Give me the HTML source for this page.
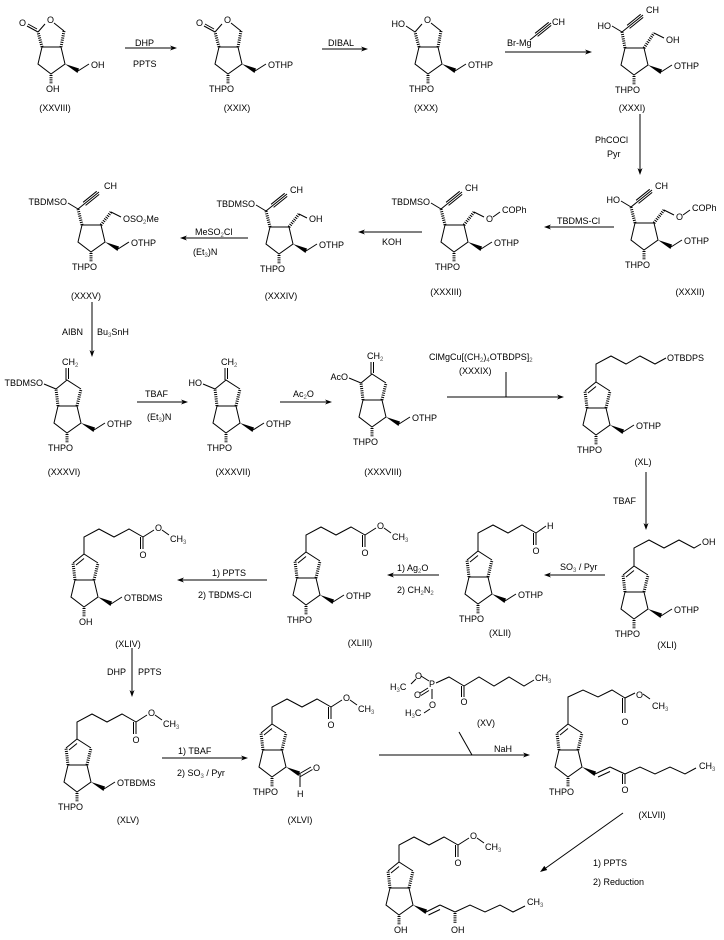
<!DOCTYPE html>
<html><head><meta charset="utf-8"><style>
html,body{margin:0;padding:0;background:#fff}
svg{display:block}
line,path{stroke:#000;stroke-width:1;fill:none}
.h{stroke-width:3;stroke-dasharray:1 1.2}
text{font-family:"Liberation Sans",sans-serif;font-size:9px;fill:#000}
.s{font-size:6px;fill:#555}
</style></head><body>
<svg width="724" height="940" viewBox="0 0 724 940" xmlns="http://www.w3.org/2000/svg">
<defs>
<g id="low">
<path d="M0,0 L19,0 M0,0 L-4,17 L9,27 L23,17 L19,0"/>
<polygon points="23,17 37,21.5 35.5,26"/>
<line class="h" x1="9" y1="28" x2="9" y2="37"/>
</g>
<path id="sub" d="M36,24 L47,17"/>
<g id="ene">
<line class="h" x1="0" y1="0" x2="-2" y2="-17"/>
<path d="M-2,-17 L9,-26 L23,-17 M1,-15 L9,-21.5"/>
<line class="h" x1="19" y1="0" x2="23" y2="-17"/>
</g>
<g id="exo">
<line class="h" x1="0" y1="0" x2="-2" y2="-17"/>
<path d="M-2,-17 L9,-26 L23,-17 M8,-26 L8,-38 M10.5,-27 L10.5,-38"/>
<line class="h" x1="19" y1="0" x2="23" y2="-17"/>
</g>
<path id="alk" d="M0,0 L21,-17 M7.6,-3.6 L21.2,-14.6 M5.1,-6.7 L18.7,-17.7"/>
<path id="est" d="M9,-26 L9,-43 L24,-51 L39,-43 L54,-51 L68,-43 L68,-31 M65.5,-43 L65.5,-31 M68,-43 L79,-50 M87,-50 L94,-45"/>
</defs>

<!-- ROW 1 -->
<g transform="translate(42,47)">
<use href="#low"/><use href="#sub"/>
<line class="h" x1="0" y1="0" x2="-4" y2="-15"/>
<path d="M-4,-15 L3,-23 M12,-24 L22,-16 M-4,-15 L-15,-21 M-5,-18 L-14,-23"/>
<line class="h" x1="22" y1="-16" x2="19" y2="0"/>
<text x="5" y="-24">O</text>
<text x="-23" y="-21">O</text>
<text x="49" y="21">OH</text>
<text x="4" y="45">OH</text>
</g>
<text x="55" y="111" text-anchor="middle">(XXVIII)</text>

<line x1="125" y1="48" x2="175" y2="48"/><polygon points="177,48 170,45.5 172,48 170,50.5"/>
<text x="135" y="46">DHP</text>
<text x="133" y="67">PPTS</text>

<g transform="translate(219,47)">
<use href="#low"/><use href="#sub"/>
<line class="h" x1="0" y1="0" x2="-4" y2="-15"/>
<path d="M-4,-15 L3,-23 M12,-24 L22,-16 M-4,-15 L-15,-21 M-5,-18 L-14,-23"/>
<line class="h" x1="22" y1="-16" x2="19" y2="0"/>
<text x="5" y="-24">O</text>
<text x="-23" y="-21">O</text>
<text x="49" y="21">OTHP</text>
<text x="15" y="45" text-anchor="end">THPO</text>
</g>
<text x="237" y="111" text-anchor="middle">(XXIX)</text>

<line x1="322" y1="49" x2="366" y2="49"/><polygon points="368,49 361,46.5 363,49 361,51.5"/>
<text x="328" y="46">DIBAL</text>

<g transform="translate(419,47)">
<use href="#low"/><use href="#sub"/>
<line class="h" x1="0" y1="0" x2="-4" y2="-15"/>
<path d="M-4,-15 L3,-23 M12,-24 L22,-16 M-4,-15 L-13,-21"/>
<line class="h" x1="22" y1="-16" x2="19" y2="0"/>
<text x="5" y="-24">O</text>
<text x="-14" y="-20" text-anchor="end">HO</text>
<text x="49" y="21">OTHP</text>
<text x="15" y="45" text-anchor="end">THPO</text>
</g>
<text x="426" y="111" text-anchor="middle">(XXX)</text>

<line x1="505" y1="52" x2="590" y2="52"/><polygon points="592,52 585,49.5 587,52 585,54.5"/>
<text x="507" y="46">Br-Mg</text>
<use href="#alk" x="530" y="40"/>
<text x="552" y="25">CH</text>

<g transform="translate(625,48)">
<use href="#low"/><use href="#sub"/>
<line class="h" x1="0" y1="0" x2="-3" y2="-16"/>
<path d="M-3,-16 L-13,-22 M29,-15 L39,-10"/>
<use href="#alk" x="-3" y="-16"/>
<line class="h" x1="19" y1="0" x2="29" y2="-15"/>
<text x="-14" y="-19" text-anchor="end">HO</text>
<text x="21" y="-35">CH</text>
<text x="41" y="-5">OH</text>
<text x="49" y="21">OTHP</text>
<text x="15" y="45" text-anchor="end">THPO</text>
</g>
<text x="632" y="111" text-anchor="middle">(XXXI)</text>

<line x1="640" y1="114" x2="640" y2="173"/><polygon points="640,175 637.5,168 640,170 642.5,168"/>
<text x="595" y="143">PhCOCl</text>
<text x="607" y="157">Pyr</text>

<!-- ROW 2 -->
<g transform="translate(635,223)">
<use href="#low"/><use href="#sub"/>
<line class="h" x1="0" y1="0" x2="-4" y2="-16"/>
<path d="M-4,-16 L-14,-22 M29,-13 L39,-8 M48,-8 L55,-13"/>
<use href="#alk" x="-4" y="-16"/>
<line class="h" x1="19" y1="0" x2="29" y2="-13"/>
<text x="-15" y="-20" text-anchor="end">HO</text>
<text x="20" y="-34">CH</text>
<text x="41" y="-3">O</text>
<text x="57" y="-12">COPh</text>
<text x="49" y="21">OTHP</text>
<text x="15" y="45" text-anchor="end">THPO</text>
</g>
<text x="690" y="295" text-anchor="middle">(XXXII)</text>

<line x1="614" y1="227" x2="546" y2="227"/><polygon points="544,227 551,224.5 549,227 551,229.5"/>
<text x="557" y="224">TBDMS-Cl</text>

<g transform="translate(445,225)">
<use href="#low"/><use href="#sub"/>
<line class="h" x1="0" y1="0" x2="-4" y2="-16"/>
<path d="M-4,-16 L-14,-22 M29,-13 L39,-8 M48,-8 L55,-13"/>
<use href="#alk" x="-4" y="-16"/>
<line class="h" x1="19" y1="0" x2="29" y2="-13"/>
<text x="-15" y="-20" text-anchor="end">TBDMSO</text>
<text x="20" y="-34">CH</text>
<text x="41" y="-3">O</text>
<text x="57" y="-12">COPh</text>
<text x="49" y="21">OTHP</text>
<text x="15" y="45" text-anchor="end">THPO</text>
</g>
<text x="446" y="295" text-anchor="middle">(XXXIII)</text>

<line x1="422" y1="232" x2="360" y2="232"/><polygon points="358,232 365,229.5 363,232 365,234.5"/>
<text x="382" y="245">KOH</text>

<g transform="translate(270,227)">
<use href="#low"/><use href="#sub"/>
<line class="h" x1="0" y1="0" x2="-4" y2="-16"/>
<path d="M-4,-16 L-14,-22 M29,-13 L37,-9"/>
<use href="#alk" x="-4" y="-16"/>
<line class="h" x1="19" y1="0" x2="29" y2="-13"/>
<text x="-15" y="-20" text-anchor="end">TBDMSO</text>
<text x="20" y="-34">CH</text>
<text x="39" y="-5">OH</text>
<text x="49" y="21">OTHP</text>
<text x="15" y="45" text-anchor="end">THPO</text>
</g>
<text x="281" y="299" text-anchor="middle">(XXXIV)</text>

<line x1="248" y1="238" x2="182" y2="238"/><polygon points="180,238 187,235.5 185,238 187,240.5"/>
<text x="195" y="235">MeSO<tspan class="s" dy="2">2</tspan><tspan dy="-2">Cl</tspan></text>
<text x="193" y="255">(Et<tspan class="s" dy="2">3</tspan><tspan dy="-2">)N</tspan></text>

<g transform="translate(82,225)">
<use href="#low"/><use href="#sub"/>
<line class="h" x1="0" y1="0" x2="-4" y2="-16"/>
<path d="M-4,-16 L-14,-22 M29,-13 L39,-8"/>
<use href="#alk" x="-4" y="-16"/>
<line class="h" x1="19" y1="0" x2="29" y2="-13"/>
<text x="-15" y="-20" text-anchor="end">TBDMSO</text>
<text x="22" y="-36">CH</text>
<text x="41" y="-3">OSO<tspan class="s" dy="2">2</tspan><tspan dy="-2">Me</tspan></text>
<text x="49" y="21">OTHP</text>
<text x="15" y="45" text-anchor="end">THPO</text>
</g>
<text x="86" y="299" text-anchor="middle">(XXXV)</text>

<line x1="92" y1="302" x2="92" y2="355"/><polygon points="92,357 89.5,350 92,352 94.5,350"/>
<text x="62" y="335">AIBN</text>
<text x="97" y="335">Bu<tspan class="s" dy="2">3</tspan><tspan dy="-2">SnH</tspan></text>

<!-- ROW 3 -->
<g transform="translate(58,406)">
<use href="#low"/><use href="#sub"/><use href="#exo"/>
<path d="M-2,-17 L-14,-22"/>
<text x="-15" y="-20" text-anchor="end">TBDMSO</text>
<text x="4" y="-41">CH<tspan class="s" dy="2">2</tspan></text>
<text x="49" y="21">OTHP</text>
<text x="15" y="45" text-anchor="end">THPO</text>
</g>
<text x="64" y="475" text-anchor="middle">(XXXVI)</text>

<line x1="137" y1="402" x2="186" y2="402"/><polygon points="188,402 181,399.5 183,402 181,404.5"/>
<text x="145" y="397">TBAF</text>
<text x="147" y="420">(Et<tspan class="s" dy="2">3</tspan><tspan dy="-2">)N</tspan></text>

<g transform="translate(217,406)">
<use href="#low"/><use href="#sub"/><use href="#exo"/>
<path d="M-2,-17 L-14,-22"/>
<text x="-15" y="-20" text-anchor="end">HO</text>
<text x="4" y="-41">CH<tspan class="s" dy="2">2</tspan></text>
<text x="49" y="21">OTHP</text>
<text x="15" y="45" text-anchor="end">THPO</text>
</g>
<text x="233" y="475" text-anchor="middle">(XXXVII)</text>

<line x1="280" y1="402" x2="330" y2="402"/><polygon points="332,402 325,399.5 327,402 325,404.5"/>
<text x="293" y="397">Ac<tspan class="s" dy="2">2</tspan><tspan dy="-2">O</tspan></text>

<g transform="translate(363,400)">
<use href="#low"/><use href="#sub"/><use href="#exo"/>
<path d="M-2,-17 L-14,-22"/>
<text x="-15" y="-20" text-anchor="end">AcO</text>
<text x="4" y="-41">CH<tspan class="s" dy="2">2</tspan></text>
<text x="49" y="21">OTHP</text>
<text x="15" y="45" text-anchor="end">THPO</text>
</g>
<text x="383" y="475" text-anchor="middle">(XXXVIII)</text>

<line x1="447" y1="397" x2="562" y2="397"/><polygon points="564,397 557,394.5 559,397 557,399.5"/>
<line x1="506" y1="372" x2="506" y2="397"/>
<text x="429" y="360">ClMgCu[(CH<tspan class="s" dy="2">2</tspan><tspan dy="-2">)</tspan><tspan class="s" dy="2">4</tspan><tspan dy="-2">OTBDPS]</tspan><tspan class="s" dy="2">2</tspan></text>
<text x="459" y="374">(XXXIX)</text>

<g transform="translate(587,408)">
<use href="#low"/><use href="#sub"/><use href="#ene"/>
<path d="M9,-26 L9,-44 L24,-52 L39,-44 L53,-52 L68,-44 L79,-50"/>
<text x="80" y="-47">OTBDPS</text>
<text x="49" y="21">OTHP</text>
<text x="15" y="45" text-anchor="end">THPO</text>
</g>
<text x="643" y="465" text-anchor="middle">(XL)</text>

<line x1="646" y1="472" x2="646" y2="528"/><polygon points="646,530 643.5,523 646,525 648.5,523"/>
<text x="613" y="504">TBAF</text>

<!-- ROW 4 -->
<g transform="translate(625,592)">
<use href="#low"/><use href="#sub"/><use href="#ene"/>
<path d="M9,-26 L9,-44 L24,-52 L39,-44 L54,-52 L69,-44 L76,-48"/>
<text x="77" y="-47">OH</text>
<text x="49" y="21">OTHP</text>
<text x="15" y="45" text-anchor="end">THPO</text>
</g>
<text x="667" y="648" text-anchor="middle">(XLI)</text>

<line x1="605" y1="575" x2="546" y2="575"/><polygon points="544,575 551,572.5 549,575 551,577.5"/>
<text x="560" y="570">SO<tspan class="s" dy="2">3</tspan><tspan dy="-2"> / Pyr</tspan></text>

<g transform="translate(469,577)">
<use href="#low"/><use href="#sub"/><use href="#ene"/>
<path d="M9,-26 L9,-44 L24,-52 L39,-44 L53,-52 L67,-44 L67,-32 M64.5,-44 L64.5,-32 M67,-44 L77,-51"/>
<text x="67" y="-23" text-anchor="middle">O</text>
<text x="78" y="-48">H</text>
<text x="49" y="21">OTHP</text>
<text x="15" y="45" text-anchor="end">THPO</text>
</g>
<text x="500" y="636" text-anchor="middle">(XLII)</text>

<line x1="439" y1="575" x2="389" y2="575"/><polygon points="387,575 394,572.5 392,575 394,577.5"/>
<text x="397" y="571">1) Ag<tspan class="s" dy="2">2</tspan><tspan dy="-2">O</tspan></text>
<text x="397" y="593">2) CH<tspan class="s" dy="2">2</tspan><tspan dy="-2">N</tspan><tspan class="s" dy="2">2</tspan></text>

<g transform="translate(297,578)">
<use href="#low"/><use href="#sub"/><use href="#ene"/><use href="#est"/>
<text x="68" y="-22" text-anchor="middle">O</text>
<text x="80" y="-49">O</text>
<text x="95" y="-38">CH<tspan class="s" dy="2">3</tspan></text>
<text x="49" y="21">OTHP</text>
<text x="15" y="45" text-anchor="end">THPO</text>
</g>
<text x="360" y="646" text-anchor="middle">(XLIII)</text>

<line x1="267" y1="580" x2="179" y2="580"/><polygon points="177,580 184,577.5 182,580 184,582.5"/>
<text x="212" y="576">1) PPTS</text>
<text x="198" y="598">2) TBDMS-Cl</text>

<g transform="translate(75,580)">
<use href="#low"/><use href="#sub"/><use href="#ene"/><use href="#est"/>
<text x="68" y="-22" text-anchor="middle">O</text>
<text x="80" y="-49">O</text>
<text x="95" y="-38">CH<tspan class="s" dy="2">3</tspan></text>
<text x="49" y="21">OTBDMS</text>
<text x="4" y="45">OH</text>
</g>
<text x="128" y="647" text-anchor="middle">(XLIV)</text>

<line x1="132" y1="648" x2="132" y2="695"/><polygon points="132,697 129.5,690 132,692 134.5,690"/>
<text x="107" y="675">DHP</text>
<text x="138" y="675">PPTS</text>

<!-- ROW 5 -->
<g transform="translate(68,765)">
<use href="#low"/><use href="#sub"/><use href="#ene"/><use href="#est"/>
<text x="68" y="-22" text-anchor="middle">O</text>
<text x="80" y="-49">O</text>
<text x="95" y="-38">CH<tspan class="s" dy="2">3</tspan></text>
<text x="49" y="21">OTBDMS</text>
<text x="15" y="45" text-anchor="end">THPO</text>
</g>
<text x="128" y="823" text-anchor="middle">(XLV)</text>

<line x1="162" y1="758" x2="246" y2="758"/><polygon points="248,758 241,755.5 243,758 241,760.5"/>
<text x="178" y="754">1) TBAF</text>
<text x="177" y="776">2) SO<tspan class="s" dy="2">3</tspan><tspan dy="-2"> / Pyr</tspan></text>

<g transform="translate(263,750)">
<use href="#low"/><use href="#ene"/><use href="#est"/>
<path d="M36,24 L48,17 M37.5,26.5 L49.5,19.5 M37,24 L37,37"/>
<text x="68" y="-22" text-anchor="middle">O</text>
<text x="80" y="-49">O</text>
<text x="95" y="-38">CH<tspan class="s" dy="2">3</tspan></text>
<text x="50" y="21">O</text>
<text x="34" y="47">H</text>
<text x="15" y="45" text-anchor="end">THPO</text>
</g>
<text x="300" y="823" text-anchor="middle">(XLVI)</text>

<line x1="379" y1="755" x2="528" y2="755"/><polygon points="530,755 523,752.5 525,755 523,757.5"/>
<line x1="459" y1="732" x2="472" y2="755"/>
<text x="494" y="752">NaH</text>

<!-- reagent XV -->
<text x="390" y="690">H<tspan class="s" dy="2">3</tspan><tspan dy="-2">C</tspan></text>
<path d="M411,684 L416,679 M421,676 L429,681 M420,693 L428,688 M421,695.5 L429,690.5 M432,689 L432,699 M430,709 L424,713 M436,683 L449,677 L464,686 L464,697 M461.5,686 L461.5,697 M464,686 L479,677 L494,686 L509,677 L524,686 L534,680"/>
<text x="415" y="679">O</text>
<text x="429" y="687">P</text>
<text x="414" y="698">O</text>
<text x="429" y="708">O</text>
<text x="405" y="716">H<tspan class="s" dy="2">3</tspan><tspan dy="-2">C</tspan></text>
<text x="464" y="705" text-anchor="middle">O</text>
<text x="535" y="681">CH<tspan class="s" dy="2">3</tspan></text>
<text x="486" y="726" text-anchor="middle">(XV)</text>

<g transform="translate(559,750)">
<use href="#low"/><use href="#ene"/>
<path d="M9,-26 L9,-53 L24,-60 L39,-53 L53,-60 L66,-52 L66,-37 M63.5,-52 L63.5,-37 M66,-52 L76,-57 M84,-56 L91,-51"/>
<text x="66" y="-25" text-anchor="middle">O</text>
<text x="77" y="-52">O</text>
<text x="93" y="-41">CH<tspan class="s" dy="2">3</tspan></text>
<path d="M36,24 L51,17 M39,27 L51,21.5 M51,17 L66,24 L66,34 M63.5,24 L63.5,34 M66,24 L81,17 L96,24 L111,17 L126,24 L137,18"/>
<text x="66" y="43" text-anchor="middle">O</text>
<text x="140" y="19">CH<tspan class="s" dy="2">3</tspan></text>
<text x="15" y="45" text-anchor="end">THPO</text>
</g>
<text x="652" y="818" text-anchor="middle">(XLVII)</text>

<line x1="623" y1="813" x2="543" y2="870"/><polygon points="540,872 547.2,870 544.3,865.9"/>
<text x="593" y="866">1) PPTS</text>
<text x="593" y="885">2) Reduction</text>

<g transform="translate(390,888)">
<use href="#low"/><use href="#ene"/><use href="#est"/>
<text x="68" y="-22" text-anchor="middle">O</text>
<text x="80" y="-49">O</text>
<text x="95" y="-38">CH<tspan class="s" dy="2">3</tspan></text>
<path d="M36,24 L50,17 M38.5,27 L50,21.5 M50,17 L65,24 M65,24 L80,17 L95,24 L110,17 L123,24 L135,18"/>
<line class="h" x1="65" y1="25" x2="65" y2="35"/>
<text x="61" y="45">OH</text>
<text x="137" y="17">CH<tspan class="s" dy="2">3</tspan></text>
<text x="4" y="45">OH</text>
</g>
</svg>
</body></html>
